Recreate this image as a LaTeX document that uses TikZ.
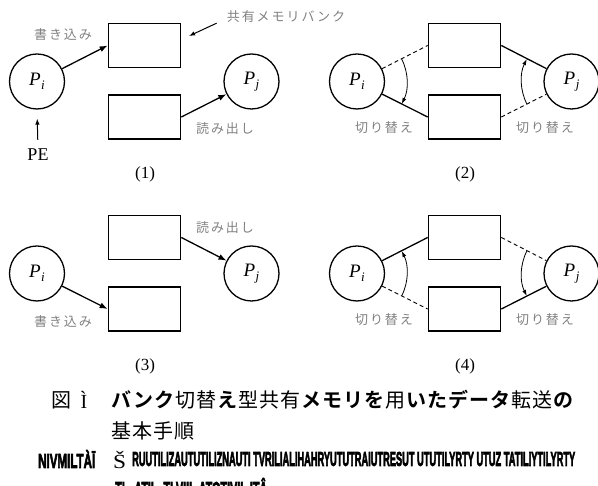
\documentclass[tikz,border=0pt]{standalone}
\usepackage{fontspec}
\usepackage{graphicx}
\setmainfont{Liberation Serif}
\newfontfamily\jplabel{Noto Sans CJK JP}[LetterSpace=15]
\newfontfamily\jpcap{Noto Sans CJK JP}[LetterSpace=5, BoldFont={Noto Sans CJK JP Bold}]
\newfontfamily\garblefont{Liberation Sans Bold}[FakeBold=4]
\usetikzlibrary{arrows.meta,calc}

% process name such as P_i, set in serif italic
\newcommand\pname[2]{\textit{P}\kern0.5pt\raisebox{-3.5pt}{\fontsize{13}{13}\selectfont\textit{#2}}}

% squeeze a run of heavy letters to a given width, keeping its height
\newcommand\squeezed[2]{\resizebox{#1}{\height}{\fontsize{20}{20}\selectfont #2}}

% the two processes and the two memory banks of one panel
\newcommand\placeunits[1]{%
  \node[proc] (Pi#1) at (37,404.5) {\pname{P}{i}};
  \node[proc] (Pj#1) at (251.5,404.5) {\pname{P}{j}};
  \node[bank] (top#1) at (144.5,440.5) {};
  \node[bank] (bot#1) at (144.5,369) {};
}

\tikzset{
  proc/.style={circle, draw, line width=1.3pt, minimum size=55pt, inner sep=0pt,
    font=\fontsize{19}{19}\selectfont},
  bank/.style={rectangle, draw, line width=1.7pt, minimum width=72pt,
    minimum height=44pt, inner sep=0pt},
  flow/.style={line width=1.3pt, -{Latex[length=8pt,width=6pt]}},
  conn/.style={line width=1.3pt},
  idle/.style={line width=0.9pt, dash pattern=on 4pt off 3pt},
  swing/.style={line width=0.8pt, -{Latex[length=6pt,width=4pt]}},
  pointer/.style={line width=1pt, -{Latex[length=6pt,width=4.5pt]}},
  note/.style={text=black!50, inner sep=0pt, font=\jplabel\fontsize{13}{13}\selectfont},
  tag/.style={inner sep=0pt, font=\fontsize{17}{17}\selectfont},
  capline/.style={inner sep=0pt, anchor=west, font=\jpcap\fontsize{20}{20}\selectfont},
  garble/.style={inner sep=0pt, anchor=west, font=\garblefont},
}

\begin{document}
\begin{tikzpicture}[x=1pt,y=1pt]
\useasboundingbox (0,0) rectangle (598,486);

% ---------- (1) write to one bank, read from the other ----------
\begin{scope}
  \placeunits{1}
  \draw[flow] (Pi1) -- (top1.west);
  \draw[flow] (bot1.east) -- (Pj1);
  \node[note] (w1) at (63,451) {書き込み};
  \node[note] (r1) at (225,357) {読み出し};
  \node[inner sep=0pt, font=\fontsize{18}{18}\selectfont] (pe) at (38,331) {PE};
  \draw[line width=1pt, -{Latex[length=6pt,width=4.5pt]}, shorten <=9pt, shorten >=9pt]
    (pe.north) -- (Pi1.south);
  \node[note] (bankname) at (286,469) {共有メモリバンク};
  \coordinate (bankptr) at (189,450);
  \draw[pointer] ($(bankname.south west)+(-10,0)$) -- (bankptr);
  \node[tag] (t1) at (145,312) {(1)};
\end{scope}

% ---------- (2) both connections switched ----------
\begin{scope}[shift={(320,0)}]
  \placeunits{2}
  \draw[idle] (Pi2) -- (top2.west);
  \draw[conn] (Pi2) -- (bot2.west);
  \draw[conn] (top2.east) -- (Pj2);
  \draw[idle] (bot2.east) -- (Pj2);
  \draw[swing] ($(Pi2)+(26.6:50pt)$) arc[start angle=26.6, end angle=-26.6, radius=50pt];
  \draw[swing] ($(Pj2)+(206.6:50pt)$) arc[start angle=206.6, end angle=153.4, radius=50pt];
  \node[note] (s2a) at (64,358) {切り替え};
  \node[note] (s2b) at (225,358) {切り替え};
  \node[tag] (t2) at (145,312) {(2)};
\end{scope}

% ---------- (3) roles of the banks exchanged ----------
\begin{scope}[shift={(0,-192)}]
  \placeunits{3}
  \draw[flow] (top3.east) -- (Pj3);
  \draw[flow] (Pi3) -- (bot3.west);
  \node[note] (r3) at (225,450) {読み出し};
  \node[note] (w3) at (63,356) {書き込み};
  \node[tag] (t3) at (145,312) {(3)};
\end{scope}

% ---------- (4) switched back ----------
\begin{scope}[shift={(320,-192)}]
  \placeunits{4}
  \draw[conn] (Pi4) -- (top4.west);
  \draw[idle] (Pi4) -- (bot4.west);
  \draw[idle] (top4.east) -- (Pj4);
  \draw[conn] (bot4.east) -- (Pj4);
  \draw[swing] ($(Pi4)+(-26.6:50pt)$) arc[start angle=-26.6, end angle=26.6, radius=50pt];
  \draw[swing] ($(Pj4)+(153.4:50pt)$) arc[start angle=153.4, end angle=206.6, radius=50pt];
  \node[note] (s4a) at (64,358) {切り替え};
  \node[note] (s4b) at (225,358) {切り替え};
  \node[tag] (t4) at (145,312) {(4)};
\end{scope}

% ---------- caption ----------
\node[inner sep=0pt, font=\jpcap\fontsize{20}{20}\selectfont] (figmark) at (61,86) {図};
\node[inner sep=0pt, font=\fontsize{20}{20}\selectfont] (fignum) at (84,86) {Ì};
\node[capline] (cap1) at (111,86)
  {\textbf{バンク}切替\textbf{え}型共有\textbf{メモリを}用\textbf{いたデータ}転送\textbf{の}};
\node[capline] (cap2) at (111,55) {基本手順};
\node[garble] (en0) at (38,27) {\squeezed{57pt}{NIVMILTÀĪ}};
\node[inner sep=0pt, anchor=west, font=\fontsize{20}{20}\selectfont] (en1) at (113,26)
  {\resizebox{13pt}{\height}{Š}};
\node[garble] (en2) at (132,27)
  {\squeezed{443pt}{RUUTILIZAUTUTILIZNAUTI TVRILIALIHAHRYUTUTRAIUTRESUT UTUTILYRTY UTUZ TATILIYTILYRTY}};
\node[garble] (en3) at (115,-1)
  {\squeezed{152pt}{TL. ATIL. TLVIIL ATOTIVIL ITÂ}};
\end{tikzpicture}
\end{document}
